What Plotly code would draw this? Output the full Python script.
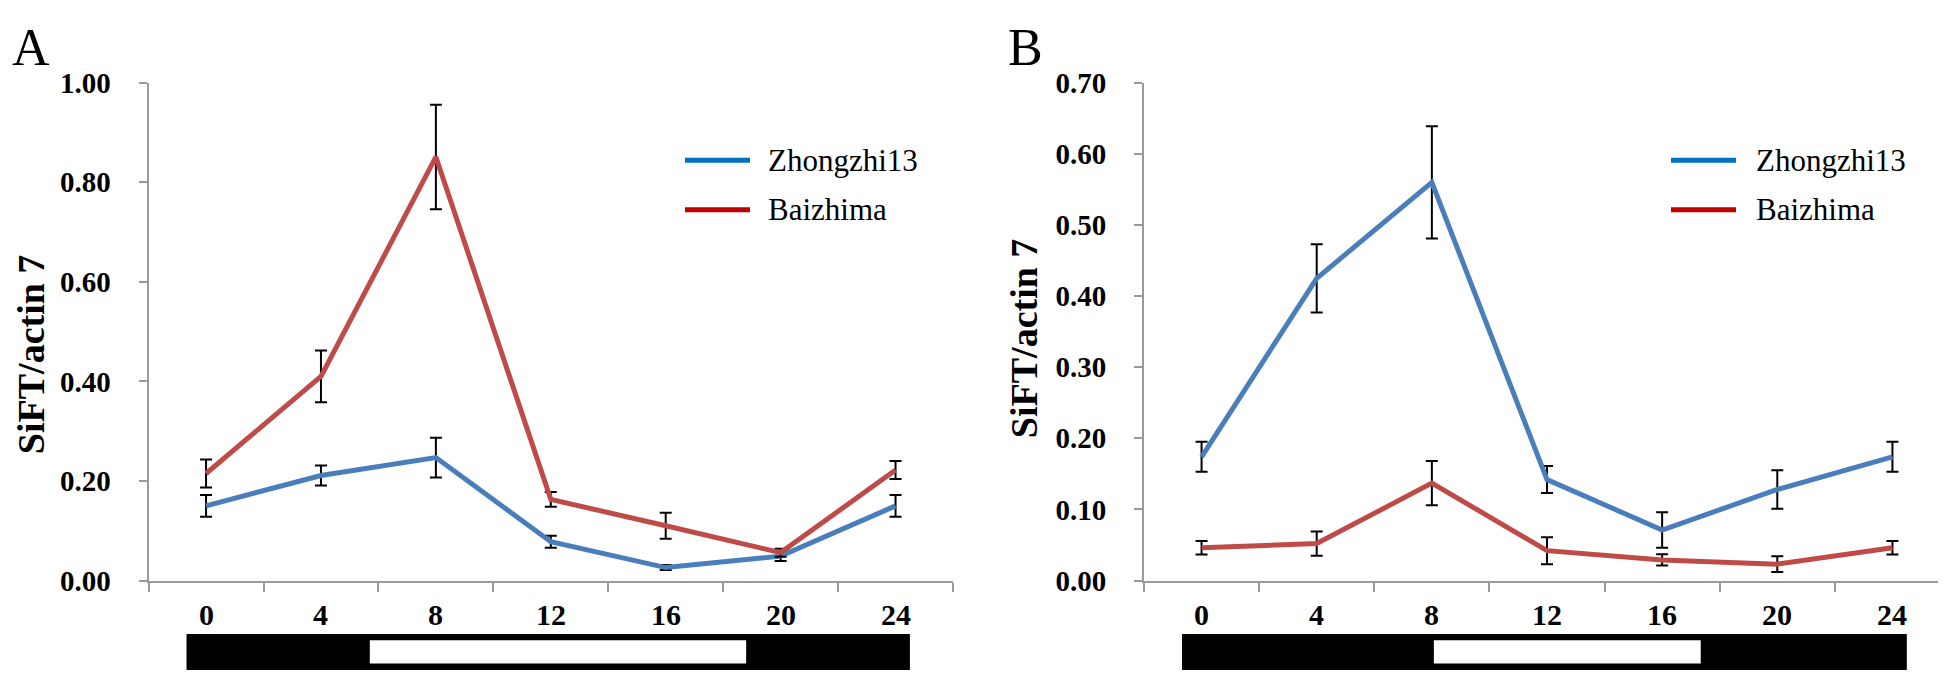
import plotly.graph_objects as go

# ---------------- data ----------------
hours = [0, 4, 8, 12, 16, 20, 24]
tick_labels = ["0", "4", "8", "12", "16", "20", "24"]
series_names = ["Zhongzhi13", "Baizhima"]

# Panel A
a_zhong = [0.150, 0.211, 0.247, 0.078, 0.026, 0.049, 0.150]
a_zhong_err = [0.022, 0.020, 0.040, 0.012, 0.005, 0.010, 0.022]
a_baizh = [0.215, 0.410, 0.851, 0.163, 0.110, 0.056, 0.222]
a_baizh_err = [0.028, 0.052, 0.105, 0.015, 0.026, 0.008, 0.018]
a_light = [5.7, 18.8]          # light period (h) shown as white box

# Panel B
b_zhong = [0.174, 0.425, 0.560, 0.142, 0.071, 0.128, 0.174]
b_zhong_err = [0.021, 0.048, 0.079, 0.019, 0.025, 0.027, 0.021]
b_baizh = [0.046, 0.052, 0.137, 0.042, 0.029, 0.023, 0.046]
b_baizh_err = [0.0095, 0.017, 0.031, 0.019, 0.008, 0.011, 0.0095]
b_light = [8.07, 17.34]

y_title = "SiFT/actin 7"

# ---------------- styling ----------------
W, H = 1946, 680
line_colors = ["#4A7EBB", "#BE4B48"]
legend_colors = ["#0070C0", "#C00000"]
serif = "Liberation Serif"
axis_grey = "#9A9A9A"


def px(x):
    return x / W


def py(y):
    return 1 - y / H


fig = go.Figure()

panels = [
    dict(xa="x", ya="y", data=[(a_zhong, a_zhong_err), (a_baizh, a_baizh_err)]),
    dict(xa="x2", ya="y2", data=[(b_zhong, b_zhong_err), (b_baizh, b_baizh_err)]),
]
for p in panels:
    for i, (vals, errs) in enumerate(p["data"]):
        fig.add_trace(go.Scatter(
            x=hours, y=vals, mode="lines", name=series_names[i],
            line=dict(color=line_colors[i], width=5),
            error_y=dict(type="data", array=errs, visible=True,
                         color="black", thickness=2, width=6),
            xaxis=p["xa"], yaxis=p["ya"], showlegend=False,
        ))

ydom = [py(584), py(61.7)]
xdomA = [px(140.6), px(945)]
xdomB = [px(1136), px(1942)]

xcommon = dict(
    range=[-2, 26], tickmode="array", tickvals=hours, ticktext=tick_labels,
    ticks="", showticklabels=False,
    showgrid=False, zeroline=False, showline=True,
    linecolor=axis_grey, linewidth=2,
    minor=dict(tickmode="array", tickvals=[-2, 2, 6, 10, 14, 18, 22, 26],
               ticks="outside", ticklen=9, tickwidth=2, tickcolor=axis_grey,
               showgrid=False),
)
ycommon = dict(
    showgrid=False, zeroline=False, showline=True, linecolor=axis_grey,
    linewidth=2, ticks="outside", ticklen=8, tickwidth=2, tickcolor=axis_grey,
    tickformat=".2f",
    tickfont=dict(family=serif, size=29, color="black", weight="bold"),
    ticklabelstandoff=22,
)

fig.update_layout(
    width=W, height=H, margin=dict(l=0, r=0, t=0, b=0),
    paper_bgcolor="white", plot_bgcolor="white", showlegend=False,
    xaxis=dict(domain=xdomA, anchor="y", **xcommon),
    yaxis=dict(domain=ydom, anchor="x", range=[0, 1.0], dtick=0.2, **ycommon),
    xaxis2=dict(domain=xdomB, anchor="y2", **xcommon),
    yaxis2=dict(domain=ydom, anchor="x2", range=[0, 0.7], dtick=0.1, **ycommon),
)

shapes = []
annotations = []

# x tick labels placed on the x axes' data scale
for xref in ("x", "x2"):
    for h, lab in zip(hours, tick_labels):
        annotations.append(dict(text=lab, xref=xref, yref="paper", x=h,
                                y=py(620), xanchor="center", yanchor="middle",
                                showarrow=False,
                                font=dict(family=serif, size=30, color="black",
                                          weight="bold")))

# light / dark bars below x axes
for xref, light in (("x", a_light), ("x2", b_light)):
    shapes.append(dict(type="rect", xref=xref, yref="paper", x0=-0.68, x1=24.5,
                       y0=py(678), y1=py(640), fillcolor="black",
                       line=dict(width=0)))
    shapes.append(dict(type="rect", xref=xref, yref="paper", x0=light[0],
                       x1=light[1], y0=py(671), y1=py(646.7),
                       fillcolor="white", line=dict(width=0)))

# manual legends
for lx0, tx in ((677, 758), (1663, 1746)):
    for i, ly in enumerate((143, 195)):
        shapes.append(dict(type="line", xref="paper", yref="paper",
                           x0=px(lx0), x1=px(lx0 + 65), y0=py(ly), y1=py(ly),
                           line=dict(color=legend_colors[i], width=5)))
        annotations.append(dict(text=series_names[i], xref="paper", yref="paper",
                                x=px(tx), y=py(ly), xanchor="left",
                                yanchor="middle", showarrow=False,
                                font=dict(family=serif, size=31, color="black")))

# y-axis titles
for tx, ty in ((22.5, 347), (1016.7, 330)):
    annotations.append(dict(text="<b>" + y_title + "</b>", xref="paper",
                            yref="paper", x=px(tx), y=py(ty), textangle=-90,
                            xanchor="center", yanchor="middle", showarrow=False,
                            font=dict(family=serif, size=38, color="black")))

# panel letters
for lbl, lx in (("A", 2), ("B", 998)):
    annotations.append(dict(text=lbl, xref="paper", yref="paper", x=px(lx),
                            y=py(25), xanchor="left", yanchor="middle",
                            showarrow=False,
                            font=dict(family=serif, size=52, color="black")))

fig.update_layout(shapes=shapes, annotations=annotations)
fig.write_html("out.html")
